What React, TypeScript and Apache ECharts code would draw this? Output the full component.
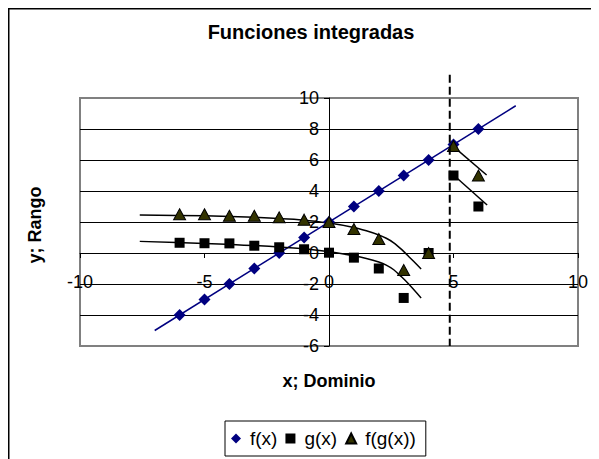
import React, { useEffect, useRef } from "react";
import * as echarts from "echarts";

// Data
const xValues = [-6, -5, -4, -3, -2, -1, 0, 1, 2, 3, 4, 5, 6];
const fValues = [-4, -3, -2, -1, 0, 1, 2, 3, 4, 5, 6, 7, 8];
const gValues = [0.66, 0.63, 0.62, 0.47, 0.37, 0.24, 0.02, -0.3, -1.0, -2.9, 0, 5.0, 3.0];
const fgValues = [2.5, 2.5, 2.4, 2.4, 2.3, 2.15, 2.0, 1.55, 0.9, -1.1, 0, 6.9, 5.0];

// Trend lines
const fLineX = [-7, 7.5];
const fLineY = [-5, 9.5];
const gCurveX = [-7.6, -5, -3, -1, 0, 1, 1.5, 2, 2.3, 2.6, 2.9, 3.2, 3.7];
const gCurveY = [0.75, 0.62, 0.48, 0.27, 0.08, -0.18, -0.35, -0.58, -0.78, -1.08, -1.52, -2.0, -2.9];
const fgCurveX = [-7.6, -5, -3, -1, 0, 1, 1.5, 2, 2.3, 2.6, 2.9, 3.2, 3.7];
const fgCurveY = [2.45, 2.4, 2.3, 2.12, 1.93, 1.65, 1.43, 1.16, 0.95, 0.66, 0.25, -0.22, -1.03];
const gSegX = [5, 6.35];
const gSegY = [5.03, 3.1];
const fgSegX = [5, 6.33];
const fgSegY = [6.86, 5.03];
const dashedX = [4.85, 4.85];
const dashedY = [11.5, -6];

const seriesNames = ["f(x)", "g(x)", "f(g(x))"];
const titleText = "Funciones integradas";
const xTitle = "x; Dominio";
const yTitle = "y; Rango";

const zip = (a: number[], b: number[]) => a.map((v, i) => [v, b[i]]);
const FONT = "'Liberation Sans', Arial, sans-serif";

export default function App() {
  const ref = useRef<HTMLDivElement>(null);
  useEffect(() => {
    if (!ref.current) return;
    const chart = echarts.init(ref.current, undefined, { renderer: "svg" });
    const lineBase = {
      type: "line" as const,
      symbol: "none",
      silent: true,
      z: 2,
    };
    const gridW = 498;
    const gridH = 248;
    chart.setOption({
      animation: false,
      textStyle: { fontFamily: FONT },
      grid: {
        left: 72,
        top: 90,
        width: gridW,
        height: gridH,
        show: true,
        borderColor: "#808080",
        borderWidth: 2,
        backgroundColor: "transparent",
      },
      xAxis: {
        type: "value",
        min: -10,
        max: 10,
        interval: 5,
        position: "bottom",
        offset: -(gridH * 6) / 16,
        axisLine: { onZero: false, lineStyle: { color: "#000", width: 1 } },
        axisTick: { show: true, length: 5, lineStyle: { color: "#000" } },
        axisLabel: { margin: 20, fontSize: 18, color: "#000", fontFamily: FONT },
        splitLine: { show: false },
      },
      yAxis: {
        type: "value",
        min: -6,
        max: 10,
        interval: 2,
        position: "left",
        offset: -gridW / 2,
        axisLine: { onZero: false, lineStyle: { color: "#000", width: 1 } },
        axisTick: { show: true, length: 5, lineStyle: { color: "#000" } },
        axisLabel: { margin: 10, fontSize: 18, color: "#000", fontFamily: FONT },
        splitLine: {
          show: true,
          showMinLine: false,
          showMaxLine: false,
          lineStyle: { color: "#000", width: 1 },
        },
      },
      legend: {
        data: [
          { name: seriesNames[0], icon: "diamond" },
          { name: seriesNames[1], icon: "rect" },
          { name: seriesNames[2], icon: "triangle" },
        ],
        left: 217,
        top: 413,
        padding: [8, 10, 8, 6],
        itemGap: 8,
        itemWidth: 10,
        itemHeight: 10,
        borderColor: "#000",
        borderWidth: 1,
        textStyle: { fontSize: 19, color: "#000", fontFamily: FONT, padding: [0, 0, 0, 4] },
      },
      graphic: [
        {
          type: "rect",
          shape: { x: 0.75, y: 0.75, width: 800, height: 800 },
          style: { fill: "none", stroke: "#000", lineWidth: 1.5 },
          silent: true,
        },
        {
          type: "text",
          x: 303,
          y: 24,
          style: {
            text: titleText,
            fontSize: 20,
            fontWeight: "bold",
            fontFamily: FONT,
            fill: "#000",
            align: "center",
            verticalAlign: "middle",
          },
        },
        {
          type: "text",
          x: 321,
          y: 373,
          style: {
            text: xTitle,
            fontSize: 18,
            fontWeight: "bold",
            fontFamily: FONT,
            fill: "#000",
            align: "center",
            verticalAlign: "middle",
          },
        },
        {
          type: "text",
          x: 27,
          y: 217,
          rotation: Math.PI / 2,
          style: {
            text: yTitle,
            fontSize: 18,
            fontWeight: "bold",
            fontFamily: FONT,
            fill: "#000",
            align: "center",
            verticalAlign: "middle",
          },
        },
      ],
      series: [
        {
          ...lineBase,
          name: "fLine",
          data: zip(fLineX, fLineY),
          lineStyle: { color: "#000080", width: 1.5 },
        },
        {
          ...lineBase,
          name: "gCurve",
          data: zip(gCurveX, gCurveY),
          smooth: 0.3,
          lineStyle: { color: "#000", width: 1.5 },
        },
        {
          ...lineBase,
          name: "fgCurve",
          data: zip(fgCurveX, fgCurveY),
          smooth: 0.3,
          lineStyle: { color: "#000", width: 1.5 },
        },
        {
          ...lineBase,
          name: "gSeg",
          data: zip(gSegX, gSegY),
          lineStyle: { color: "#000", width: 1.5 },
        },
        {
          ...lineBase,
          name: "fgSeg",
          data: zip(fgSegX, fgSegY),
          lineStyle: { color: "#000", width: 1.5 },
        },
        {
          type: "scatter",
          name: seriesNames[0],
          data: zip(xValues, fValues),
          symbol: "diamond",
          symbolSize: 12,
          itemStyle: { color: "#000080", opacity: 1 },
          z: 3,
        },
        {
          type: "scatter",
          name: seriesNames[1],
          data: zip(xValues, gValues),
          symbol: "rect",
          symbolSize: 10,
          itemStyle: { color: "#000", opacity: 1 },
          z: 4,
        },
        {
          type: "scatter",
          name: seriesNames[2],
          data: zip(xValues, fgValues),
          symbol: "triangle",
          symbolSize: [12, 11],
          itemStyle: { color: "#333300", borderColor: "#000", borderWidth: 1, opacity: 1 },
          z: 5,
        },
        {
          ...lineBase,
          name: "dashed",
          data: zip(dashedX, dashedY),
          clip: false,
          lineStyle: { color: "#000", width: 2, type: [8, 4] },
          z: 6,
        },
      ],
    });
    return () => chart.dispose();
  }, []);
  return <div ref={ref} style={{ width: 591, height: 451 }} />;
}
